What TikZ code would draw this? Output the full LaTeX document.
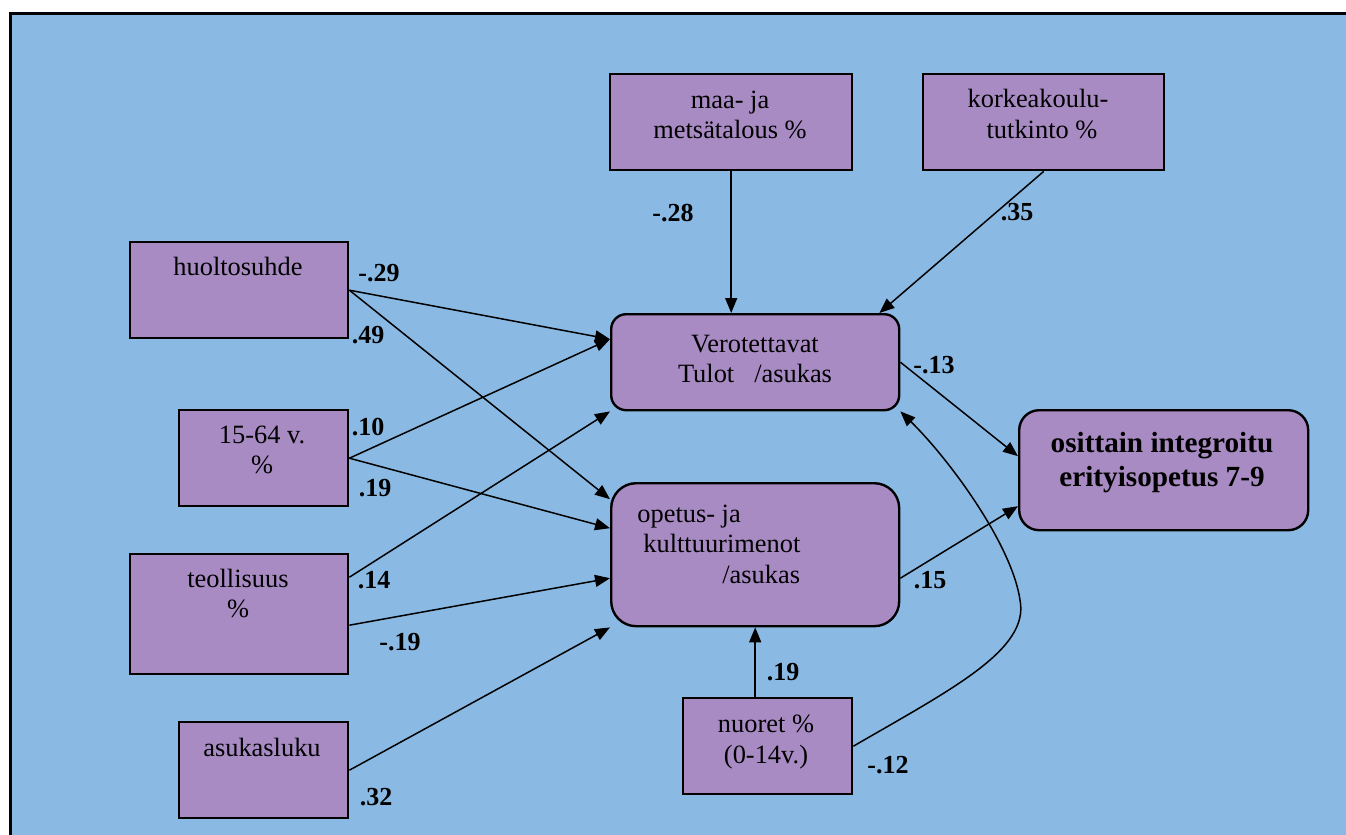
\documentclass[tikz,border=0pt]{standalone}
\usepackage{fontspec}
\setmainfont{LiberationSerif}[Extension=.ttf, UprightFont=*-Regular, BoldFont=*-Bold, ItalicFont=*-Italic, BoldItalicFont=*-BoldItalic]
\usetikzlibrary{arrows.meta}
\definecolor{bgblue}{RGB}{138,186,227}
\definecolor{boxpurple}{RGB}{169,139,196}
\tikzset{
  box/.style={draw=black, line width=1.2pt, fill=boxpurple, inner sep=0pt, anchor=north west},
  rbox/.style={box, rounded corners=#1},
  txt/.style={inner sep=0pt, anchor=base, font=\rmfamily\fontsize{13.2}{15}\selectfont},
  txtw/.style={txt, anchor=base west},
  btxt/.style={inner sep=0pt, anchor=base, font=\rmfamily\fontsize{14.6}{17}\selectfont\bfseries},
  coef/.style={inner sep=0pt, font=\rmfamily\fontsize{13}{15}\selectfont\bfseries},
  link/.style={line width=0.75pt, -{Triangle[length=7.5pt, width=6pt]}},
}
\begin{document}
\begin{tikzpicture}[x=0.5pt, y=-0.5pt]
\useasboundingbox (0,0) rectangle (1346,835);
\begin{scope}
  \clip (0,0) rectangle (1346,835);
  \draw[fill=bgblue, line width=1.5pt] (10,13) rectangle (1370,860);
\end{scope}

% predictor boxes
\node[box, minimum width=121pt, minimum height=48pt] (maa) at (609,73) {};
\node[txt] (maaA) at (730,108) {maa- ja};
\node[txt] (maaB) at (730,138) {metsätalous \%};

\node[box, minimum width=120.5pt, minimum height=48pt] (kork) at (922,73) {};
\node[txt] (korkA) at (1038,107) {korkeakoulu-};
\node[txt] (korkB) at (1042,138) {tutkinto \%};

\node[box, minimum width=109pt, minimum height=48pt] (huol) at (129,241) {};
\node[txt] (huolA) at (238,275) {huoltosuhde};

\node[box, minimum width=84.5pt, minimum height=48pt] (ika) at (178,409) {};
\node[txt] (ikaA) at (262,443) {15-64 v.};
\node[txt] (ikaB) at (262,473) {\%};

\node[box, minimum width=109pt, minimum height=60pt] (teol) at (129,553) {};
\node[txt] (teolA) at (238,587) {teollisuus};
\node[txt] (teolB) at (238,617) {\%};

\node[box, minimum width=84.5pt, minimum height=48pt] (asuk) at (178,721) {};
\node[txt] (asukA) at (262,756) {asukasluku};

\node[box, minimum width=84.5pt, minimum height=48pt] (nuor) at (682,697) {};
\node[txt] (nuorA) at (766,732) {nuoret \%};
\node[txt] (nuorB) at (766,763) {(0-14v.)};

% mediator and outcome boxes
\node[rbox=7.5pt, minimum width=144pt, minimum height=48pt] (vero) at (610,313) {};
\node[txt] (veroA) at (755,352) {Verotettavat};
\node[txt] (veroB) at (755,382) {Tulot\hspace{10pt}/asukas};

\node[rbox=12.5pt, minimum width=144pt, minimum height=71.5pt] (opet) at (610,482) {};
\node[txtw] (opetA) at (637,522) {opetus- ja};
\node[txtw] (opetB) at (643,552) {kulttuurimenot};
\node[txtw] (opetC) at (722,583) {/asukas};

\node[rbox=10pt, minimum width=144.5pt, minimum height=60pt] (osit) at (1018,409) {};
\node[btxt] (ositA) at (1162,452) {osittain integroitu};
\node[btxt] (ositB) at (1162,486) {erityisopetus 7-9};

% paths
\draw[link] (maa.south) -- (maa.south |- vero.north);
\draw[link] (kork.south) -- ([xshift=-10.5pt]vero.north east);
\draw[link] (huol.east) -- ([yshift=11.5pt]vero.west);
\draw[link] (huol.east) -- ([yshift=27.75pt]opet.west);
\draw[link] (ika.east) -- ([yshift=11.5pt]vero.west);
\draw[link] (ika.east) -- ([yshift=13.25pt]opet.west);
\draw[link] ([yshift=18.5pt]teol.east) -- (vero.south west);
\draw[link] ([yshift=-5.5pt]teol.east) -- ([yshift=-11.75pt]opet.west);
\draw[link] (asuk.east) -- (opet.south west);
\draw[link] (opet.south |- nuor.north) -- (opet.south);
\draw[link] (vero.east) -- ([yshift=7pt]osit.west);
\draw[link] ([yshift=-11.75pt]opet.east) -- ([yshift=-18pt]osit.west);
\draw[link] (nuor.east) .. controls (950,690) and (1030,650) .. (1020,600)
  .. controls (1012,545) and (950,460) .. (vero.south east);

% path coefficients
\node[coef] (c1) at (673,213) {-.28};
\node[coef] (c2) at (1017,212) {.35};
\node[coef] (c3) at (379,273) {-.29};
\node[coef] (c4) at (368,335) {.49};
\node[coef] (c5) at (368,427) {.10};
\node[coef] (c6) at (375,488) {.19};
\node[coef] (c7) at (374,580) {.14};
\node[coef] (c8) at (400,642) {-.19};
\node[coef] (c9) at (376,797) {.32};
\node[coef] (c10) at (934,365) {-.13};
\node[coef] (c11) at (930,580) {.15};
\node[coef] (c12) at (783,672) {.19};
\node[coef] (c13) at (888,765) {-.12};
\end{tikzpicture}
\end{document}
